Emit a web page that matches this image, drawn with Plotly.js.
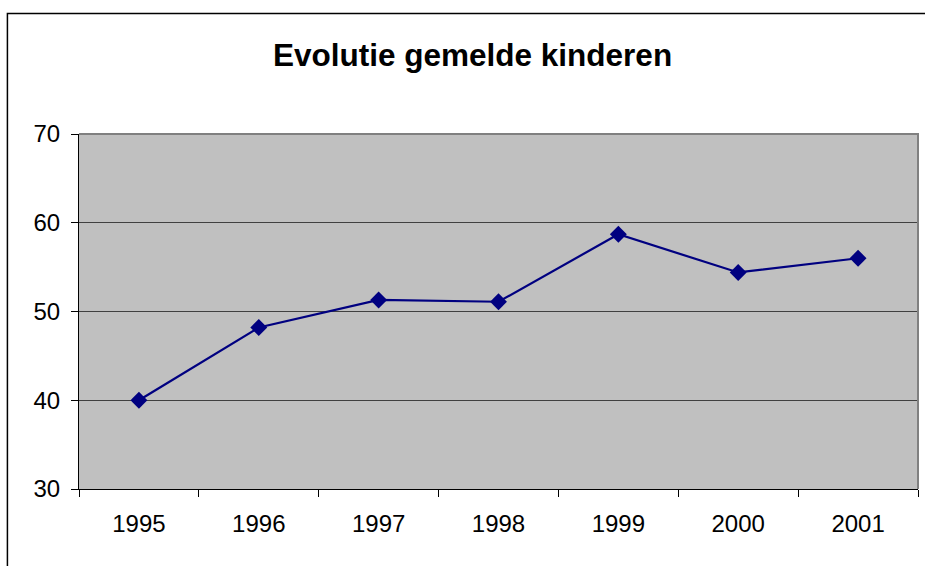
<!DOCTYPE html>
<html>
<head>
<meta charset="utf-8">
<script src="https://cdn.plot.ly/plotly-3.0.1.min.js"></script>
<style>
  body { margin: 0; background: #fff; }
  #chart { width: 925px; height: 566px; }
</style>
</head>
<body>
<div id="chart"></div>
<script>
// Years and number of reported children
var years = ["1995", "1996", "1997", "1998", "1999", "2000", "2001"];
var kinderen = [40, 48.2, 51.3, 51.1, 58.7, 54.4, 56.0];
var yTicks = [30, 40, 50, 60, 70];

var trace = {
  x: years,
  y: kinderen,
  type: "scatter",
  mode: "lines+markers",
  line: { color: "#000080", width: 2.2 },
  marker: { symbol: "diamond", size: 13, color: "#000080" },
  hoverinfo: "x+y"
};

var layout = {
  width: 925,
  height: 566,
  margin: { l: 79, r: 7, t: 134, b: 77 },
  paper_bgcolor: "#ffffff",
  plot_bgcolor: "#c0c0c0",
  showlegend: false,
  font: { family: "Liberation Sans, Arial, sans-serif", color: "#000" },
  xaxis: {
    type: "category",
    range: [-0.5, 6.5],
    tickson: "boundaries",
    ticks: "outside",
    ticklen: 7,
    tickcolor: "#000",
    showline: true,
    linecolor: "#000",
    linewidth: 1,
    showgrid: false,
    tickfont: { size: 24 },
    ticklabelstandoff: 13,
    fixedrange: true
  },
  yaxis: {
    range: [30, 70],
    tickvals: yTicks,
    ticks: "outside",
    ticklen: 7,
    tickcolor: "#000",
    showline: true,
    linecolor: "#000",
    linewidth: 1,
    showgrid: true,
    gridcolor: "#404040",
    gridwidth: 1,
    zeroline: false,
    tickfont: { size: 24 },
    ticklabelstandoff: 6,
    fixedrange: true
  },
  annotations: [{
    text: "<b>Evolutie gemelde kinderen</b>",
    xref: "paper", yref: "paper",
    x: (472 - 79) / 838, y: (489 - 55) / 355,
    xanchor: "center", yanchor: "middle",
    showarrow: false,
    font: { size: 31.5, color: "#000" }
  }],
  shapes: [
    // chart area border (runs off the right and bottom of the picture)
    {
      type: "rect", xref: "paper", yref: "paper", layer: "above",
      x0: (7.5 - 79) / 838, x1: (960 - 79) / 838,
      y0: (489 - 620) / 355, y1: (489 - 13.5) / 355,
      line: { color: "#000", width: 1.5 }
    },
    // plot area top and right border
    {
      type: "path", xref: "paper", yref: "paper", layer: "above",
      path: "M 0 1 L 1 1 L 1 0",
      line: { color: "#808080", width: 2 }
    }
  ]
};

Plotly.newPlot("chart", [trace], layout, { displayModeBar: false, staticPlot: true });
</script>
</body>
</html>
